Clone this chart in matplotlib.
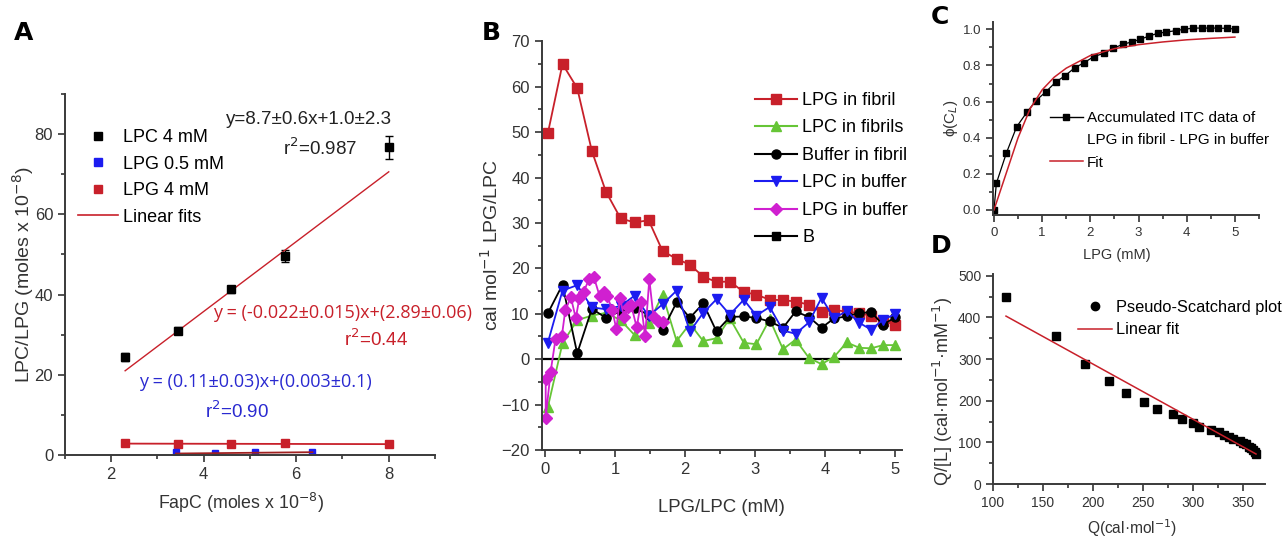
import matplotlib
matplotlib.use("Agg")
import matplotlib.pyplot as plt
from matplotlib.lines import Line2D
from matplotlib.ticker import MultipleLocator

# ---------------- Panel A data ----------------
fapc_lpc = [2.3, 3.45, 4.6, 5.75, 8.0]
lpc_4mm = [24.5, 31.0, 41.3, 49.7, 76.7]
lpc_4mm_err = [1.0, 0.8, 0.8, 1.5, 2.8]
fapc_lpg05 = [3.4, 4.25, 5.1, 6.35]
lpg_05mm = [0.7, 0.5, 0.8, 0.8]
fapc_lpg4 = [2.3, 3.45, 4.6, 5.75, 8.0]
lpg_4mm = [2.9, 2.8, 2.7, 2.9, 2.7]
# fitted lines (end points)
fit_lpc_x = [2.3, 8.0]
fit_lpc_y = [21.0, 70.6]
fit_lpg05_x = [3.4, 6.35]
fit_lpg05_y = [0.37, 0.70]
fit_lpg4_x = [2.3, 8.0]
fit_lpg4_y = [2.84, 2.71]

# ---------------- Panel B data ----------------
conc_b = [0.04, 0.25, 0.46, 0.67, 0.87, 1.08, 1.28, 1.48, 1.68, 1.88, 2.07, 2.26, 2.45, 2.64,
          2.84, 3.02, 3.21, 3.40, 3.58, 3.77, 3.95, 4.13, 4.31, 4.49, 4.66, 4.83, 5.0]
lpg_in_fibril = [49.7, 65.0, 59.7, 45.8, 36.9, 31.0, 30.1, 30.6, 23.8, 22.1, 20.8, 18.2, 17.0, 17.1,
                 14.8, 14.2, 13.1, 13.0, 12.7, 12.0, 10.3, 10.9, 10.4, 10.2, 9.5, 8.4, 7.6]
lpc_in_fibrils = [-10.6, 3.5, 8.6, 9.6, 10.2, 8.6, 5.3, 7.9, 14.2, 4.0, 7.8, 4.0, 4.6, 9.0,
                  3.6, 3.3, 8.8, 2.2, 4.3, 0.3, -1.1, 0.5, 3.7, 2.5, 2.4, 3.1, 3.1]
buffer_in_fibril = [10.1, 16.4, 1.3, 11.1, 9.1, 10.6, 11.2, 9.8, 6.4, 12.5, 9.1, 12.3, 6.1, 9.3,
                    9.4, 9.1, 8.3, 6.9, 10.5, 9.3, 6.9, 9.0, 9.4, 10.2, 10.3, 7.6, 9.2]
lpc_in_buffer = [3.6, 15.1, 16.3, 11.4, 11.0, 11.7, 14.0, 9.5, 12.1, 15.1, 6.1, 10.2, 13.2, 9.8,
                 13.1, 9.6, 11.5, 6.3, 5.6, 8.1, 13.5, 9.0, 10.6, 8.0, 6.5, 8.7, 9.9]
conc_lpg_buffer = [0.01, 0.01, 0.08, 0.15, 0.24, 0.29, 0.37, 0.44, 0.49, 0.55, 0.63, 0.70, 0.78, 0.84,
                   0.89, 0.96, 1.02, 1.07, 1.13, 1.18, 1.23, 1.31, 1.37, 1.43, 1.49, 1.55, 1.61, 1.68]
lpg_in_buffer = [-4.3, -12.9, -2.8, 4.4, 5.0, 10.8, 13.6, 9.0, 13.4, 14.8, 17.6, 18.0, 13.9, 14.8,
                 13.9, 10.8, 6.6, 13.5, 9.3, 11.5, 12.0, 7.0, 12.5, 5.0, 17.6, 9.3, 8.5, 8.1]

# ---------------- Panel C data ----------------
lpg_c = [0.0, 0.05, 0.26, 0.47, 0.68, 0.87, 1.08, 1.29, 1.47, 1.68, 1.87, 2.07, 2.28, 2.48,
         2.67, 2.86, 3.04, 3.22, 3.40, 3.58, 3.78, 3.94, 4.14, 4.31, 4.48, 4.65, 4.83, 5.0]
phi_c = [0.0, 0.148, 0.317, 0.46, 0.54, 0.605, 0.655, 0.71, 0.742, 0.788, 0.815, 0.849, 0.867, 0.895,
         0.917, 0.93, 0.945, 0.963, 0.978, 0.985, 0.993, 1.0, 1.007, 1.007, 1.007, 1.007, 1.005, 1.002]
fit_c_x = [0, 0.1, 0.25, 0.5, 0.75, 1.0, 1.25, 1.5, 2.0, 2.5, 3.0, 3.5, 4.0, 4.5, 5.0]
fit_c_y = [0, 0.08, 0.2, 0.4, 0.56, 0.665, 0.735, 0.785, 0.855, 0.893, 0.915, 0.93, 0.942, 0.95, 0.957]

# ---------------- Panel D data ----------------
q_d = [113, 163, 192, 216, 233, 251, 264, 280, 289, 300, 306, 318, 326, 331, 336, 340,
       347, 350, 353, 356, 358, 360, 362, 363]
q_over_l = [449, 356, 288, 247, 218, 198, 180, 168, 156, 147, 138, 130, 124, 118, 113, 108,
            103, 99, 95, 90, 86, 82, 78, 73]
fit_d_x = [113, 363]
fit_d_y = [403, 72]

plt.rcParams['font.family'] = ['Liberation Sans', 'DejaVu Sans']
plt.rcParams['axes.linewidth'] = 1.4
plt.rcParams['axes.edgecolor'] = '#3a3a3a'

RED = '#c8202a'
GREEN = '#66c536'
BLUE = '#1c1cf0'
MAGENTA = '#d020d0'
GREY = '#333333'
W, H = 1285, 540


def box(left, top, right, bottom):
    # pixel box -> figure fraction
    return [left / W, 1 - bottom / H, (right - left) / W, (bottom - top) / H]


def fig_xy(x, y):
    return (x / W, 1 - y / H)


def style_axes(ax, size):
    for s in ['top', 'right']:
        ax.spines[s].set_visible(False)
    ax.tick_params(which='both', direction='out', colors=GREY, width=1.2, labelsize=size)
    ax.tick_params(which='major', length=5)
    ax.tick_params(which='minor', length=3)


fig = plt.figure(figsize=(12.85, 5.4), dpi=100)

# ================================
# Panel A
# ================================
axA = fig.add_axes(box(65, 94, 435, 455))
axA.errorbar(fapc_lpc, lpc_4mm, yerr=lpc_4mm_err, fmt='s', color='black', ms=6, capsize=3, elinewidth=1)
axA.plot(fapc_lpg4, lpg_4mm, 's', color=RED, ms=6)
axA.plot(fapc_lpg05, lpg_05mm, 's', color=BLUE, ms=5)
axA.plot(fit_lpc_x, fit_lpc_y, color=RED, lw=1)
axA.plot(fit_lpg4_x, fit_lpg4_y, color=RED, lw=1.3)
axA.plot(fit_lpg05_x, fit_lpg05_y, color='#a02020', lw=1.3)
axA.set_xlim(1, 9)
axA.set_ylim(0, 90)
axA.xaxis.set_major_locator(MultipleLocator(2))
axA.xaxis.set_minor_locator(MultipleLocator(1))
axA.yaxis.set_major_locator(MultipleLocator(20))
axA.yaxis.set_minor_locator(MultipleLocator(10))
style_axes(axA, 12)
axA.set_xlabel('FapC (moles x 10$^{-8}$)', fontsize=12.8, color=GREY)
axA.set_ylabel('LPC/LPG (moles x 10$^{-8}$)', fontsize=14, color=GREY)
axA.xaxis.set_label_coords(0.476, -0.1)
axA.yaxis.set_label_coords(-0.078, 0.5)

hA = [Line2D([], [], ls='none', marker='s', color='black', ms=6),
      Line2D([], [], ls='none', marker='s', color=BLUE, ms=6),
      Line2D([], [], ls='none', marker='s', color=RED, ms=6),
      Line2D([], [], color=RED, lw=1.2)]
axA.legend(hA, ['LPC 4 mM', 'LPG 0.5 mM', 'LPG 4 mM', 'Linear fits'], loc='upper left',
           bbox_to_anchor=fig_xy(78, 129), bbox_transform=fig.transFigure, frameon=False,
           borderpad=0, borderaxespad=0, handlelength=2.2, handletextpad=0.3,
           labelspacing=0.53, fontsize=13)

axA.text(6.28, 83.7, 'y=8.7±0.6x+1.0±2.3', fontsize=13.5, ha='center', va='center', color='#222222')
axA.text(6.51, 76.5, 'r$^2$=0.987', fontsize=13.5, ha='center', va='center', color='#222222')
axA.text(4.2, 35.5, 'y = (-0.022±0.015)x+(2.89±0.06)', fontsize=13, family='Open Sans',
         ha='left', va='center', color=RED)
axA.text(7.73, 28.9, 'r$^2$=0.44', fontsize=13.5, ha='center', va='center', color=RED)
axA.text(5.11, 18.2, 'y = (0.11±0.03)x+(0.003±0.1)', fontsize=13, family='Open Sans',
         ha='center', va='center', color='#2a2ad0')
axA.text(4.73, 11.0, 'r$^2$=0.90', fontsize=13.5, ha='center', va='center', color='#2a2ad0')

# ================================
# Panel B
# ================================
axB = fig.add_axes(box(541.5, 41.3, 902, 450))
axB.axhline(0, color='black', lw=1.6, zorder=1)
axB.plot(conc_b, lpg_in_fibril, '-s', color=RED, ms=6.5, lw=1.3)
axB.plot(conc_b, lpc_in_fibrils, '-^', color=GREEN, ms=6.5, lw=1.3)
axB.plot(conc_b, buffer_in_fibril, '-o', color='black', ms=6.5, lw=1.3)
axB.plot(conc_b, lpc_in_buffer, '-v', color=BLUE, ms=6.5, lw=1.3)
axB.plot(conc_lpg_buffer, lpg_in_buffer, '-D', color=MAGENTA, ms=6, lw=1.3)
axB.set_xlim(-0.05, 5.1)
axB.set_ylim(-20, 70)
axB.xaxis.set_major_locator(MultipleLocator(1))
axB.xaxis.set_minor_locator(MultipleLocator(0.5))
axB.yaxis.set_major_locator(MultipleLocator(10))
axB.yaxis.set_minor_locator(MultipleLocator(5))
style_axes(axB, 12)
axB.set_xlabel('LPG/LPC (mM)', fontsize=13.4, color=GREY)
axB.set_ylabel('cal mol$^{-1}$ LPG/LPC', fontsize=14, color=GREY)
axB.xaxis.set_label_coords(0.5, -0.12)
axB.yaxis.set_label_coords(-0.11, 0.5)

hB = [Line2D([], [], color=RED, marker='s', ms=6.5, lw=1.5),
      Line2D([], [], color=GREEN, marker='^', ms=6.5, lw=1.5),
      Line2D([], [], color='black', marker='o', ms=6.5, lw=1.5),
      Line2D([], [], color=BLUE, marker='v', ms=6.5, lw=1.5),
      Line2D([], [], color=MAGENTA, marker='D', ms=6, lw=1.5),
      Line2D([], [], color='black', marker='s', ms=6, lw=1.5)]
axB.legend(hB, ['LPG in fibril', 'LPC in fibrils', 'Buffer in fibril', 'LPC in buffer',
                'LPG in buffer', 'B'], loc='upper left',
           bbox_to_anchor=fig_xy(755, 92), bbox_transform=fig.transFigure, frameon=False,
           borderpad=0, borderaxespad=0, handlelength=2.3, handletextpad=0.33,
           labelspacing=0.58, fontsize=13)

# ================================
# Panel C
# ================================
axC = fig.add_axes(box(993, 22.1, 1259, 215.4))
axC.plot(lpg_c, phi_c, '-s', color='black', ms=4.5, lw=0.9)
axC.plot(fit_c_x, fit_c_y, color=RED, lw=1.1)
axC.set_xlim(-0.02, 5.5)
axC.set_ylim(-0.03, 1.04)
axC.xaxis.set_major_locator(MultipleLocator(1))
axC.xaxis.set_minor_locator(MultipleLocator(0.5))
axC.yaxis.set_major_locator(MultipleLocator(0.2))
axC.yaxis.set_minor_locator(MultipleLocator(0.1))
axC.yaxis.set_major_formatter(plt.FormatStrFormatter('%.1f'))
style_axes(axC, 9.5)
axC.set_xlabel('LPG (mM)', fontsize=10.5, color=GREY)
axC.set_ylabel('ϕ(C$_L$)', fontsize=11, color=GREY)
axC.xaxis.set_label_coords(0.465, -0.17)
axC.yaxis.set_label_coords(-0.124, 0.504)

hC = [Line2D([], [], color='black', marker='s', ms=4, lw=1),
      Line2D([], [], ls='none'),
      Line2D([], [], color=RED, lw=1.1)]
axC.legend(hC, ['Accumulated ITC data of', 'LPG in fibril - LPG in buffer', 'Fit'], loc='upper left',
           bbox_to_anchor=fig_xy(1050, 111), bbox_transform=fig.transFigure, frameon=False,
           borderpad=0, borderaxespad=0, handlelength=2.15, handletextpad=0.26,
           labelspacing=0.55, fontsize=11)

# ================================
# Panel D
# ================================
axD = fig.add_axes(box(993, 273.6, 1265, 484))
axD.plot(q_d, q_over_l, 's', color='black', ms=5.5)
axD.plot(fit_d_x, fit_d_y, color=RED, lw=1.1)
axD.set_xlim(100, 372)
axD.set_ylim(0, 505)
axD.xaxis.set_major_locator(MultipleLocator(50))
axD.xaxis.set_minor_locator(MultipleLocator(25))
axD.yaxis.set_major_locator(MultipleLocator(100))
axD.yaxis.set_minor_locator(MultipleLocator(50))
style_axes(axD, 10)
axD.set_xlabel('Q(cal·mol$^{-1}$)', fontsize=11.2, color=GREY)
axD.set_ylabel('Q/[L] (cal·mol$^{-1}$·mM$^{-1}$)', fontsize=13, color=GREY)
axD.xaxis.set_label_coords(0.51, -0.16)
axD.yaxis.set_label_coords(-0.138, 0.442)

hD = [Line2D([], [], ls='none', marker='o', color='black', ms=6),
      Line2D([], [], color=RED, lw=1.1)]
axD.legend(hD, ['Pseudo-Scatchard plot', 'Linear fit'], loc='upper left',
           bbox_to_anchor=fig_xy(1078, 300), bbox_transform=fig.transFigure, frameon=False,
           borderpad=0, borderaxespad=0, handlelength=2.1, handletextpad=0.2,
           labelspacing=0.45, fontsize=11.8)

# panel letters
for letter, x, y in [('A', 14, 40), ('B', 482, 40), ('C', 931, 24), ('D', 931, 253)]:
    fig.text(x / W, 1 - y / H, letter, fontsize=18, fontweight='bold', family='DejaVu Sans',
             ha='left', va='baseline')

fig.savefig('out.png', dpi=100)
